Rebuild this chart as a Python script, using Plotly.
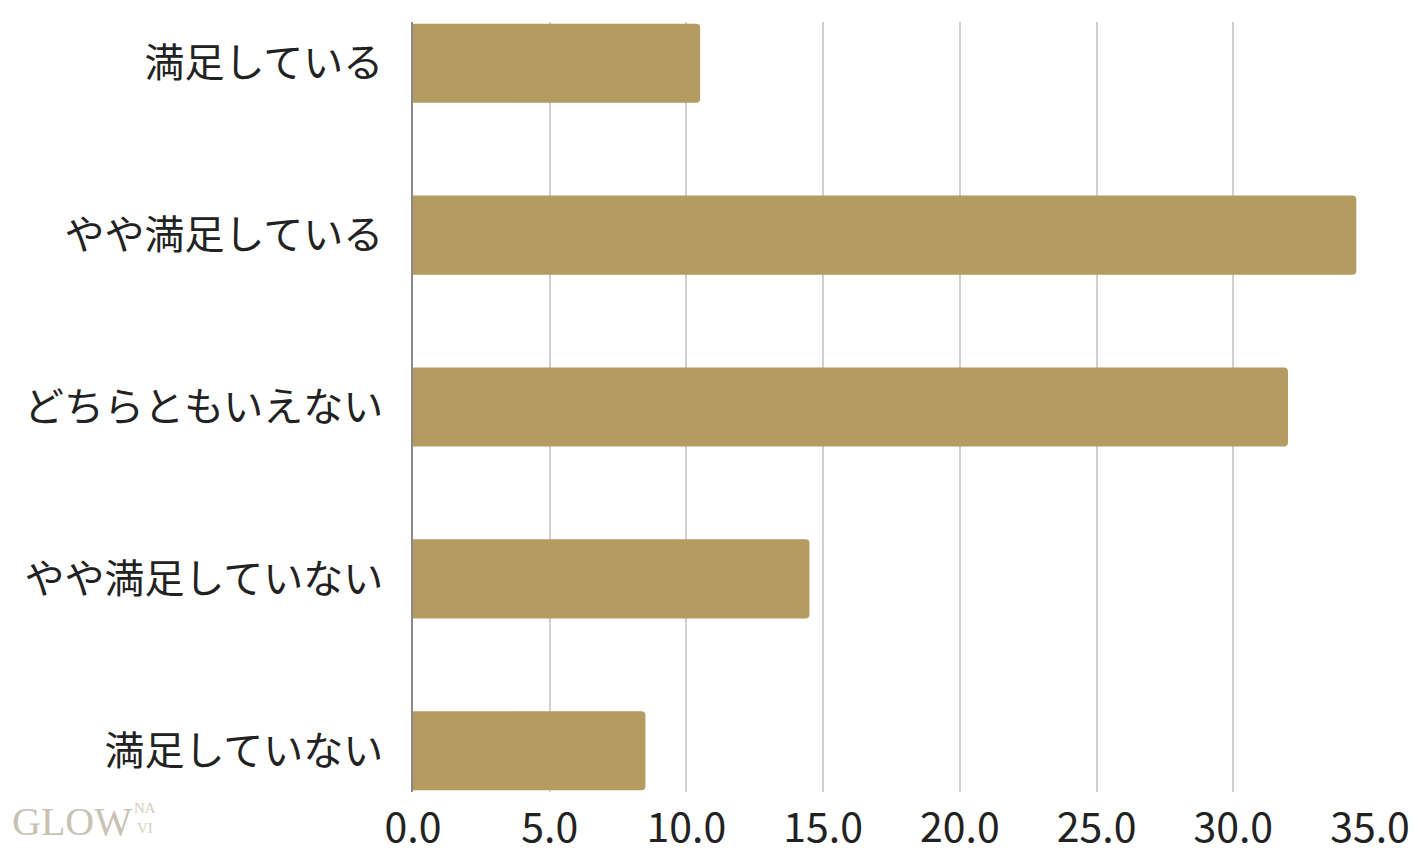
import plotly.graph_objects as go

categories = ["満足している", "やや満足している", "どちらともいえない", "やや満足していない", "満足していない"]
values = [10.5, 34.5, 32.0, 14.5, 8.5]
tick_vals = [0, 5, 10, 15, 20, 25, 30, 35]
tick_text = ["0.0", "5.0", "10.0", "15.0", "20.0", "25.0", "30.0", "35.0"]

fig = go.Figure(go.Bar(
    x=values, y=categories, orientation="h",
    marker=dict(color="#B39B62", line=dict(width=0)),
    width=0.46,
))

# page body adds an 8px offset; plot area target: x 413-1370, y 22-792
L, T, PW, PH = 405, 14, 957, 770
fig.update_layout(
    width=1418, height=852,
    margin=dict(l=L, r=1418 - L - PW, t=T, b=852 - T - PH),
    paper_bgcolor="white", plot_bgcolor="white",
    font=dict(family="Noto Sans CJK JP, Noto Sans", color="#222222"),
    barcornerradius=4,
    showlegend=False,
    xaxis=dict(
        range=[0, 35], tickvals=tick_vals, ticktext=tick_text,
        showgrid=True, gridcolor="#cfcfcf", gridwidth=1.5,
        zeroline=False, showline=False, automargin=False,
        tickfont=dict(size=41, color="#222222", family="Noto Sans CJK JP"),
        ticks="", ticklabelstandoff=8,
    ),
    yaxis=dict(
        categoryorder="array", categoryarray=categories,
        range=[4.24, -0.24], automargin=False,
        showgrid=False, zeroline=False,
        showline=True, linecolor="#8a8a8a", linewidth=1.5,
        tickfont=dict(size=40, color="#222222", family="Noto Sans CJK JP"),
        ticks="", ticklabelstandoff=20,
    ),
)

fig.add_annotation(
    xref="paper", yref="paper", x=(10 - 413) / PW, y=-30 / PH,
    xanchor="left", yanchor="middle", showarrow=False,
    text="GLOW", font=dict(family="Liberation Serif", size=40, color="#c9c2b4"),
)
fig.add_annotation(
    xref="paper", yref="paper", x=(132 - 413) / PW, y=-26 / PH,
    xanchor="left", yanchor="middle", showarrow=False,
    text="NA<br>VI", font=dict(family="Liberation Serif", size=15, color="#d6cebe"),
)

fig.write_html("out.html")
